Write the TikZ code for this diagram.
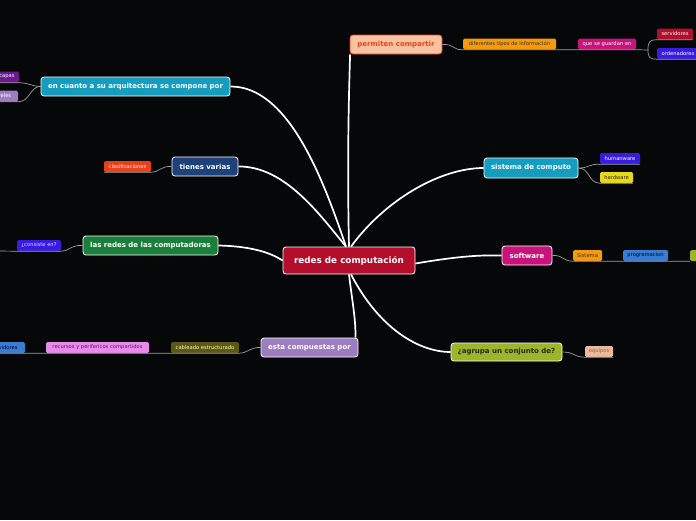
\documentclass[tikz,border=0pt]{standalone}
\usepackage{fontspec}
\setmainfont{DejaVu Sans}
\begin{document}
\begin{tikzpicture}[x=1pt,y=-1pt,
  mainbox/.style={draw=white, line width=0.8pt, rounded corners=3pt, inner sep=0pt, text=white, font=\bfseries\fontsize{7}{8}\selectfont, minimum height=19pt},
  subbox/.style={rounded corners=1.5pt, inner sep=0pt, minimum height=11pt, font=\fontsize{5.2}{6}\selectfont},
  mainline/.style={white, line width=1.7pt},
  subline/.style={draw=gray!75!white, line width=0.7pt}]
\definecolor{bg}{HTML}{060709}
\definecolor{crim}{HTML}{B30F2C}
\definecolor{teal}{HTML}{159DBF}
\definecolor{navy}{HTML}{1C4279}
\definecolor{grn}{HTML}{1A7F3A}
\definecolor{mag}{HTML}{C8137A}
\definecolor{lav}{HTML}{9B7DC0}
\definecolor{oliv}{HTML}{9DB52A}
\definecolor{peach}{HTML}{F8C3A0}
\definecolor{ored}{HTML}{E9401C}
\definecolor{orng}{HTML}{F59A0E}
\definecolor{viol}{HTML}{3A1BE0}
\definecolor{purp}{HTML}{6A1A8C}
\definecolor{ylw}{HTML}{E6D81A}
\definecolor{blu}{HTML}{3A7CD0}
\definecolor{eqp}{HTML}{E8B99B}
\definecolor{dolv}{HTML}{5B5914}
\definecolor{pnk}{HTML}{E98AE9}
\useasboundingbox (0,0) rectangle (696,520);
\fill[bg] (0,0) rectangle (696,520);

% main nodes
\node[mainbox, fill=crim, minimum width=132pt, minimum height=27pt, font=\bfseries\fontsize{8.8}{10}\selectfont] (c) at (349,260.5) {redes de computación};
\node[mainbox, fill=peach, draw=ored, text=ored, minimum width=92pt] (pc) at (396,44.5) {permiten compartir};
\node[mainbox, fill=teal, minimum width=189pt] (ea) at (135.5,86.5) {en cuanto a su arquitectura se compone por};
\node[mainbox, fill=navy, minimum width=66pt] (tv) at (205,166.5) {tienes varias};
\node[mainbox, fill=teal, minimum width=94pt, minimum height=20pt] (sc) at (531,168) {sistema de computo};
\node[mainbox, fill=grn, minimum width=135pt] (lr) at (150.5,245.5) {las redes de las computadoras};
\node[mainbox, fill=mag, minimum width=50pt] (sw) at (527,255.5) {software};
\node[mainbox, fill=lav, minimum width=97pt] (ec) at (309.5,347.5) {esta compuestas por};
\node[mainbox, fill=oliv, text=black!85, minimum width=111pt, minimum height=18pt] (ag) at (506.5,352) {¿agrupa un conjunto de?};

% sub nodes
\node[subbox, fill=orng, text=black!80, minimum width=93pt] (dt) at (509.5,44) {diferentes tipos de información};
\node[subbox, fill=mag, text=white, minimum width=58pt] (qg) at (607,44) {que se guardan en};
\node[subbox, fill=crim, text=white!85!pink, minimum width=36pt] (sv) at (675,34) {servidores};
\node[subbox, fill=viol, text=white, minimum width=42pt] (od) at (678,53.5) {ordenadores};
\node[subbox, fill=purp, text=white, minimum width=24pt] (cp) at (7,77) {capas};
\node[subbox, fill=lav, text=white, minimum width=32pt] (nv) at (2,96) {niveles};
\node[subbox, fill=ored, text=white!85!orange, minimum width=47pt] (cl) at (127.5,166.5) {clasificaciones};
\node[subbox, fill=viol, text=white, minimum width=40pt] (hu) at (620,158.5) {humanware};
\node[subbox, fill=ylw, text=black!85, minimum width=33pt] (hd) at (616.5,177.5) {hardware};
\node[subbox, fill=viol, text=white!85!blue, minimum width=44pt] (cs) at (39,245.5) {¿consiste en?};
\coordinate (csx) at (-4,251);
\node[subbox, fill=orng, text=black!80, minimum width=29pt] (si) at (587.5,255.5) {Sistema};
\node[subbox, fill=blu, text=black!80!blue, minimum width=45pt] (pg) at (645.5,255.5) {programacion};
\node[subbox, fill=oliv, text=black!80, minimum width=42pt] (ap) at (711,255.5) {aplicacion};
\node[subbox, fill=eqp, text=brown!80!black, minimum width=28pt] (eq) at (599,351.5) {equipos};
\node[subbox, fill=dolv, text=white!80!yellow, minimum width=68pt] (cb) at (205,347.5) {cableado estructurado};
\node[subbox, fill=pnk, text=purp!80!black, minimum width=103pt] (rc) at (97.5,347.5) {recursos y perifericos compartidos};
\node[subbox, fill=blu, text=black!80!blue, minimum width=42pt] (s2) at (4,347.5) {servidores};

% main connectors
\draw[mainline] (c.north) .. controls (347,160) and (349,90) .. ([xshift=0.5pt]pc.south west);
\draw[mainline] ([xshift=-3pt]c.north) .. controls (325,185) and (290,86) .. (ea.east);
\draw[mainline] ([xshift=-3pt]c.north) .. controls (320,215) and (285,166) .. (tv.east);
\draw[mainline] ([xshift=2pt]c.north) .. controls (385,200) and (440,168) .. (sc.west);
\draw[mainline] (c.west) .. controls (265,249) and (240,246) .. (lr.east);
\draw[mainline] ([yshift=-3pt]c.east) .. controls (460,256) and (480,255) .. (sw.west);
\draw[mainline] (c.south) .. controls (352,300) and (356,320) .. ([xshift=-3pt]ec.north east);
\draw[mainline] ([xshift=2pt]c.south) .. controls (380,330) and (420,352) .. (ag.west);

% sub connectors
\draw[subline] (pc.east) .. controls (455,44) and (452,50) .. (dt.south west) -- (dt.south east) -- (qg.south west) -- (qg.south east) -- (648,50);
\draw[subline] (648,50) .. controls (648,41) and (650,40) .. (sv.south west) -- (sv.south east);
\draw[subline] (648,50) .. controls (648,58) and (650,59) .. (od.south west) -- (od.south east);
\draw[subline] (ea.west) .. controls (30,86) and (30,83) .. (cp.south east) -- (cp.south west);
\draw[subline] (ea.west) .. controls (30,86) and (30,102) .. (nv.south east) -- (nv.south west);
\draw[subline] (tv.west) .. controls (160,166) and (160,172) .. (cl.south east) -- (cl.south west);
\draw[subline] (sc.east) .. controls (590,168) and (588,164) .. (hu.south west) -- (hu.south east);
\draw[subline] (sc.east) .. controls (590,168) and (588,183) .. (hd.south west) -- (hd.south east);
\draw[subline] (lr.west) .. controls (70,245) and (70,251) .. (cs.south east) -- (cs.south west) -- (csx);
\draw[subline] (sw.east) .. controls (564,255) and (562,261) .. (si.south west) -- (si.south east) -- (pg.south west) -- (pg.south east) -- (ap.south west);
\draw[subline] (ag.east) .. controls (575,352) and (573,357) .. (eq.south west) -- (eq.south east);
\draw[subline] (ec.west) .. controls (250,347) and (248,353) .. (cb.south east) -- (cb.south west) -- (rc.south east) -- (rc.south west) -- (s2.south east) -- (s2.south west);
\end{tikzpicture}
\end{document}
